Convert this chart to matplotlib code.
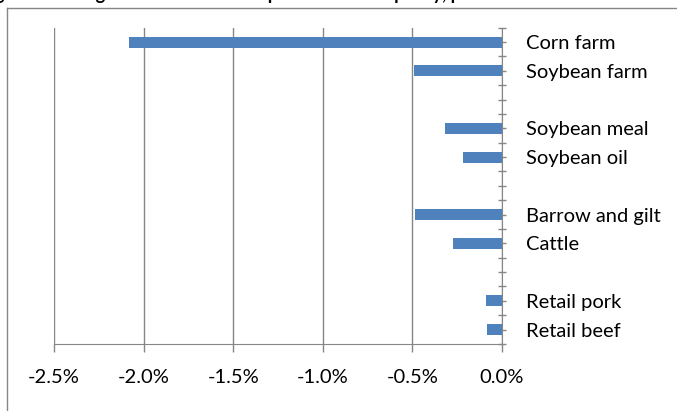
import numpy as np
import matplotlib
matplotlib.use('Agg')
import matplotlib.pyplot as plt
from matplotlib.lines import Line2D

categories = ['Corn farm', 'Soybean farm', '', 'Soybean meal', 'Soybean oil', '',
              'Barrow and gilt', 'Cattle', '', 'Retail pork', 'Retail beef']
changes = [-2.08, -0.49, np.nan, -0.32, -0.215, np.nan, -0.485, -0.275, np.nan, -0.09, -0.083]
x_ticks = [-2.5, -2.0, -1.5, -1.0, -0.5, 0.0]
x_labels = ['-2.5%', '-2.0%', '-1.5%', '-1.0%', '-0.5%', '0.0%']
title = 'Figure 4. Changes in farm and retail prices from the policy, percent difference from baseline'

plt.rcParams['font.family'] = ['Lato', 'DejaVu Sans']

fig = plt.figure(figsize=(6.77, 4.11), dpi=100)
ax = fig.add_axes([54 / 677, 67 / 411, 448 / 677, 316.3 / 411])

pos = np.arange(len(categories))
ax.barh(pos, changes, height=0.38, color='#4F81BD', zorder=3)

ax.set_xlim(-2.5, 0.0)
ax.set_ylim(len(categories) - 0.5, -0.5)
ax.set_xticks(x_ticks)
ax.set_xticklabels(x_labels, fontsize=14.5)
ax.grid(axis='x', color='#868686', linewidth=1.0, zorder=0)

# category labels sit on the right of the zero axis
ax.yaxis.tick_right()
ax.set_yticks(pos)
ax.set_yticklabels(categories, fontsize=14.5)
ax.set_yticks(np.arange(-0.5, len(categories), 1.0), minor=True)
ax.tick_params(axis='y', which='both', direction='inout', length=6, width=1, color='#868686')
ax.tick_params(axis='y', which='major', pad=14)
ax.tick_params(axis='x', direction='out', length=6, width=1, color='#868686', pad=12)

for s in ['top', 'left']:
    ax.spines[s].set_visible(False)
ax.spines['right'].set_color('#868686')
ax.spines['bottom'].set_color('#868686')
ax.spines['right'].set_zorder(4)

# outer chart border, mostly cut off by the image edge
fig.add_artist(Line2D([7 / 677, 7 / 677], [0, 1 - 8 / 411], color='#868686', linewidth=1))
fig.add_artist(Line2D([7 / 677, 1], [1 - 8 / 411, 1 - 8 / 411], color='#868686', linewidth=1))

# title sits above the image, only its descenders show
fig.text(-0.03, 1.0, title, fontsize=13, fontweight='bold', va='baseline')

fig.savefig('out.png', dpi=100)
